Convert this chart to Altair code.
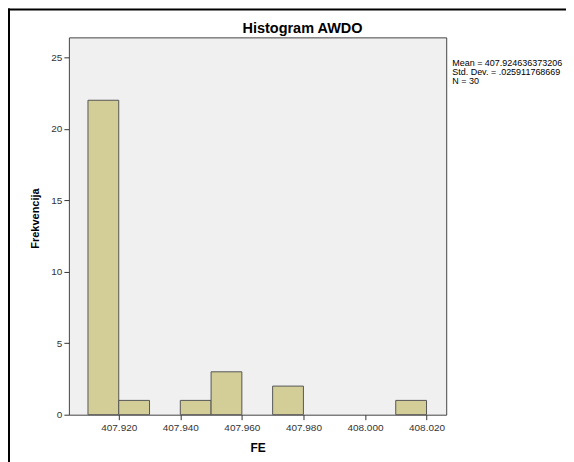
import altair as alt
import pandas as pd

bin_start = [407.910, 407.920, 407.940, 407.950, 407.970, 408.010]
bin_end = [407.920, 407.930, 407.950, 407.960, 407.980, 408.020]
counts = [22, 1, 1, 3, 2, 1]
x_ticks = [407.920, 407.940, 407.960, 407.980, 408.000, 408.020]
y_ticks = [0, 5, 10, 15, 20, 25]
stats_lines = ["Mean = 407.924636373206", "Std. Dev. = .025911768669", "N = 30"]
chart_title = "Histogram AWDO"

df = pd.DataFrame({"start": bin_start, "end": bin_end, "count": counts})
FONT = "Liberation Sans"

xs = alt.Scale(domain=[407.9038, 408.0264], nice=False, zero=False)
ys = alt.Scale(domain=[0, 26.4], nice=False)

bars = alt.Chart(df).mark_bar(
    fill="#D3CE97", stroke="#555555", strokeWidth=1, opacity=1
).encode(
    x=alt.X("start:Q", scale=xs, title="FE",
            axis=alt.Axis(values=x_ticks, format=".3f", labelFont=FONT, labelFontSize=10,
                          labelColor="#333333", titleFont=FONT, titleFontSize=12,
                          titleFontWeight="bold", titleColor="#000000", titlePadding=10,
                          tickColor="#333333", tickSize=5, domain=False, grid=False,
                          labelPadding=3)),
    x2="end:Q",
    y=alt.Y("count:Q", scale=ys, title="Frekvencija",
            axis=alt.Axis(values=y_ticks, labelFont=FONT, labelFontSize=10,
                          labelColor="#333333", titleFont=FONT, titleFontSize=11,
                          titleFontWeight="bold", titleColor="#000000", titlePadding=10,
                          titleY=181,
                          tickColor="#333333", tickSize=5, domain=False, grid=False,
                          labelPadding=2)),
    y2=alt.datum(0),
)

layers = [bars]
for i, line in enumerate(stats_lines):
    layers.append(
        alt.Chart(pd.DataFrame({"text": [line]})).mark_text(
            align="left", baseline="middle", font=FONT, fontSize=9, color="#000000"
        ).encode(x=alt.value(384), y=alt.value(26 + 9 * i), text="text:N")
    )

title_layer = alt.Chart(pd.DataFrame({"text": [chart_title]})).mark_text(
    align="center", baseline="alphabetic", font=FONT, fontSize=14.5, fontWeight="bold",
    color="#000000"
).encode(x=alt.value(234), y=alt.value(-4), text="text:N")
layers.append(title_layer)

frame_left = alt.Chart(pd.DataFrame({"a": [0]})).mark_rule(color="#000000", strokeWidth=2).encode(
    x=alt.value(-60), y=alt.value(-29), y2=alt.value(430)
)
frame_top = alt.Chart(pd.DataFrame({"a": [0]})).mark_rule(color="#000000", strokeWidth=2).encode(
    x=alt.value(-61), x2=alt.value(510), y=alt.value(-28)
)
layers += [frame_left, frame_top]

chart = alt.layer(*layers).properties(
    width=378, height=378,
    autosize=alt.AutoSizeParams(type="none"),
    padding={"left": 61, "top": 29, "right": 120, "bottom": 60},
).configure_view(
    fill="#F0F0F0", stroke="#444444", strokeWidth=1
)

chart.save("out.html", embed_options={"renderer": "svg", "actions": False})
